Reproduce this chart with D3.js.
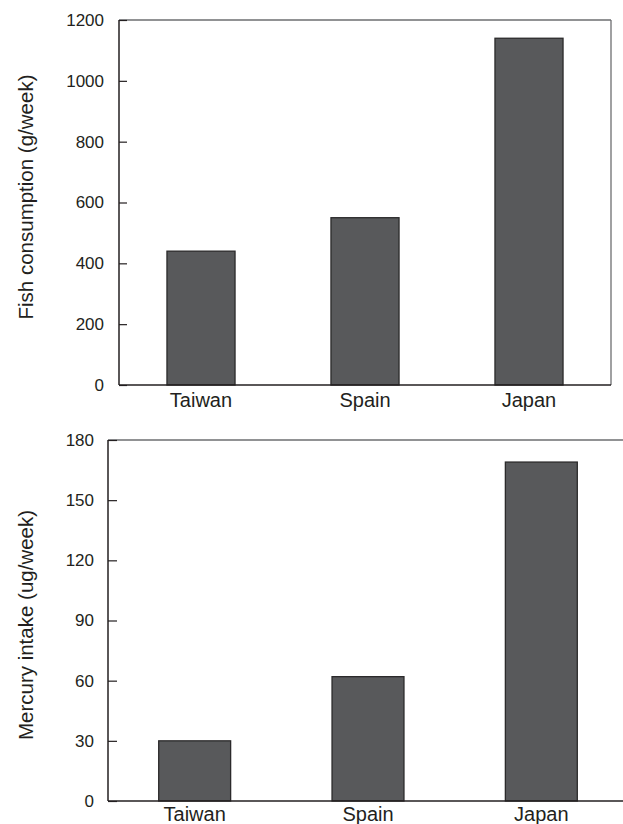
<!DOCTYPE html>
<html>
<head>
<meta charset="utf-8">
<script src="https://cdn.jsdelivr.net/npm/d3@7"></script>
<style>
body { margin: 0; background: #fff; }
svg text { font-family: "Liberation Sans", Arial, Helvetica, sans-serif; fill: #231f20; }
</style>
</head>
<body>
<div id="chart"></div>
<script>
var countries = ["Taiwan", "Spain", "Japan"];
var fishValues = [440, 550, 1140];
var mercuryValues = [30, 62, 169];
var fishTicks = [0, 200, 400, 600, 800, 1000, 1200];
var mercuryTicks = [0, 30, 60, 90, 120, 150, 180];

var svg = d3.select('#chart').append('svg')
    .attr('width', 623)
    .attr('height', 824);

svg.append('rect')
    .attr('width', 623)
    .attr('height', 824)
    .attr('fill', 'white');

function panel(opt) {
    var x = d3.scaleBand()
        .domain(countries)
        .range([opt.left, opt.right])
        .paddingInner(0.585)
        .paddingOuter(0.2925);
    var y = d3.scaleLinear()
        .domain([0, opt.max])
        .range([opt.bottom, opt.top]);

    var g = svg.append('g');

    // frame
    g.append('line')
        .attr('x1', opt.left).attr('x2', opt.frameRight)
        .attr('y1', opt.top).attr('y2', opt.top)
        .style('stroke', '#6d6e70').style('stroke-width', 1.3);
    if (opt.rightBorder) {
        g.append('line')
            .attr('x1', opt.right).attr('x2', opt.right)
            .attr('y1', opt.top).attr('y2', opt.bottom)
            .style('stroke', '#6d6e70').style('stroke-width', 1.3);
    }

    // bars
    g.selectAll('.bar')
        .data(opt.values)
        .enter().append('rect')
        .attr('class', 'bar')
        .attr('x', function (d, i) { return x(countries[i]); })
        .attr('width', x.bandwidth())
        .attr('y', function (d) { return y(d); })
        .attr('height', function (d) { return opt.bottom - y(d); })
        .attr('fill', '#58595b')
        .style('stroke', '#2b2a2b')
        .style('stroke-width', 1.3);

    // y axis, ticks pointing inward
    var yAxis = g.append('g')
        .attr('transform', 'translate(' + opt.left + ',0)')
        .call(d3.axisRight(y).tickValues(opt.ticks).tickSize(opt.tick).tickFormat(d3.format('d')));
    yAxis.select('.domain').remove();
    yAxis.selectAll('line').style('stroke', '#231f20').style('stroke-width', 1.2);
    yAxis.selectAll('text')
        .attr('x', -opt.labelGap)
        .attr('text-anchor', 'end')
        .style('font-size', '17px');

    g.append('line')
        .attr('x1', opt.left).attr('x2', opt.left)
        .attr('y1', opt.top).attr('y2', opt.bottom)
        .style('stroke', '#231f20').style('stroke-width', 1.5);
    g.append('line')
        .attr('x1', opt.left).attr('x2', opt.frameRight)
        .attr('y1', opt.bottom).attr('y2', opt.bottom)
        .style('stroke', '#231f20').style('stroke-width', 1.5);

    // category labels
    g.selectAll('.cat')
        .data(countries)
        .enter().append('text')
        .attr('class', 'cat')
        .attr('x', function (d) { return x(d) + x.bandwidth() / 2; })
        .attr('y', opt.catY)
        .attr('text-anchor', 'middle')
        .style('font-size', '20px')
        .text(function (d) { return d; });

    // axis title
    g.append('text')
        .attr('transform', 'translate(33,' + opt.titleY + ') rotate(-90)')
        .attr('text-anchor', 'middle')
        .style('font-size', '20.5px')
        .text(opt.title);
}

panel({
    values: fishValues, ticks: fishTicks, max: 1200,
    left: 119, right: 611, frameRight: 611, rightBorder: true,
    top: 20, bottom: 385, tick: 8, labelGap: 15,
    catY: 407, titleY: 197, title: 'Fish consumption (g/week)'
});

panel({
    values: mercuryValues, ticks: mercuryTicks, max: 180,
    left: 108, right: 628, frameRight: 623, rightBorder: false,
    top: 440, bottom: 801, tick: 9, labelGap: 14,
    catY: 821, titleY: 625, title: 'Mercury intake (ug/week)'
});
</script>
</body>
</html>
